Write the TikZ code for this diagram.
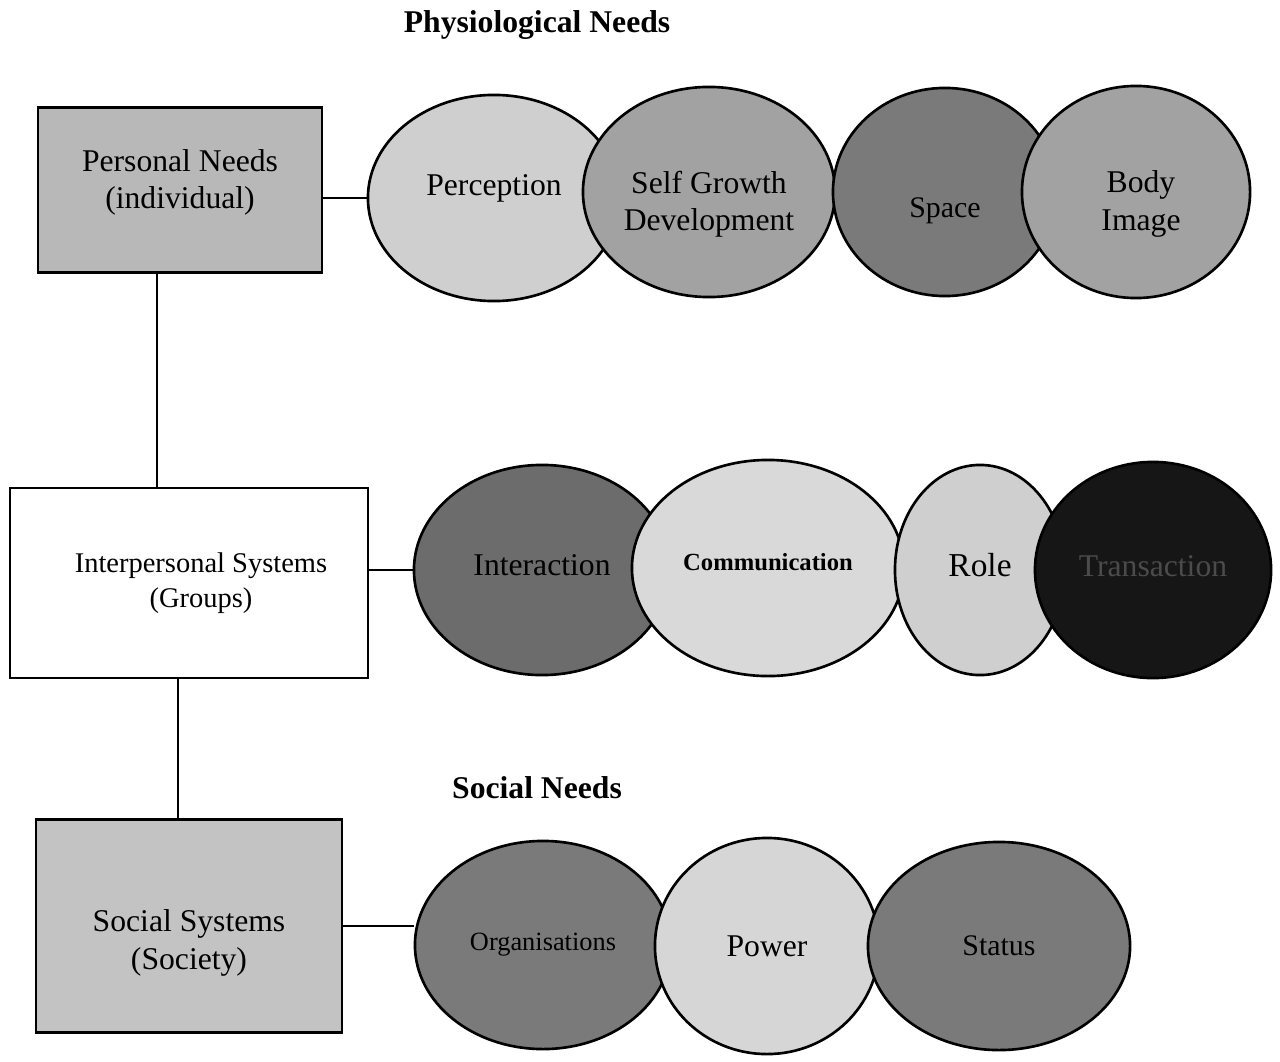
\documentclass[tikz,border=0pt]{standalone}
\usepackage{fontspec}
\setmainfont{Liberation Serif}
\usetikzlibrary{shapes.geometric}

% fill tones of the scanned picture
\definecolor{boxgray}{HTML}{B8B8B8}
\definecolor{lightgray}{HTML}{CFCFCF}
\definecolor{midgray}{HTML}{A2A2A2}
\definecolor{darkgray}{HTML}{7A7A7A}
\definecolor{deepgray}{HTML}{6C6C6C}
\definecolor{nearblack}{HTML}{161616}

\begin{document}
\begin{tikzpicture}[x=0.01cm, y=-0.01cm, line width=0.75pt,
    box/.style={draw, rectangle, inner sep=0pt},
    bubble/.style={draw, ellipse, inner sep=0pt},
    tag/.style={align=center, inner sep=0pt,
        font=\fontsize{9}{10.6}\selectfont},
    heading/.style={font=\bfseries\fontsize{9}{10.6}\selectfont}]

    \useasboundingbox (0,0) rectangle (1280,1061);

    % headings
    \node[heading] (physio) at (537,25) {Physiological Needs};
    \node[heading] (social) at (537,788) {Social Needs};

    % the three systems
    \node[box, fill=boxgray, minimum width=2.84cm, minimum height=1.65cm,
        label={[tag, yshift=0.075cm]center:Personal Needs\\(individual)}]
        (personal) at (180,190) {};
    \node[box, fill=white, minimum width=3.58cm, minimum height=1.90cm,
        label={[tag, xshift=0.12cm, font=\fontsize{8.1}{10}\selectfont]
            center:Interpersonal Systems\\(Groups)}]
        (interpersonal) at (189,583) {};
    \node[box, fill=boxgray!85, minimum width=3.06cm, minimum height=2.13cm,
        label={[tag, yshift=-0.17cm]center:Social Systems\\(Society)}]
        (societal) at (189,926) {};

    % physiological needs
    \node[bubble, fill=lightgray, minimum width=2.52cm, minimum height=2.06cm,
        label={[tag, yshift=0.10cm]center:Perception}]
        (perception) at (494,198) {};
    \node[bubble, fill=midgray, minimum width=2.52cm, minimum height=2.10cm,
        label={[tag, yshift=-0.12cm]center:Self Growth\\Development}]
        (growth) at (709,192) {};
    \node[bubble, fill=darkgray, minimum width=2.24cm, minimum height=2.08cm,
        label={[tag, yshift=-0.19cm, font=\fontsize{8.5}{10}\selectfont]
            center:Space}]
        (space) at (945,192) {};
    \node[bubble, fill=midgray, minimum width=2.28cm, minimum height=2.12cm,
        label={[tag, xshift=0.05cm, yshift=-0.12cm]center:Body\\Image}]
        (body) at (1136,192) {};

    % interpersonal needs
    \node[bubble, fill=deepgray, minimum width=2.56cm, minimum height=2.10cm,
        label={[tag, yshift=0.05cm]center:Interaction}]
        (interaction) at (542,570) {};
    \node[bubble, fill=lightgray!80, minimum width=2.72cm, minimum height=2.16cm,
        label={[tag, yshift=0.06cm, font=\bfseries\fontsize{7}{8.5}\selectfont]
            center:Communication}]
        (communication) at (768,568) {};
    \node[bubble, fill=lightgray, minimum width=1.70cm, minimum height=2.10cm,
        label={[tag, yshift=0.05cm, font=\fontsize{9.5}{11}\selectfont]
            center:Role}]
        (role) at (980,570) {};
    \node[bubble, fill=nearblack, minimum width=2.36cm, minimum height=2.16cm,
        label={[tag, yshift=0.04cm, text=deepgray!70!black]center:Transaction}]
        (transaction) at (1153,570) {};

    % social needs
    \node[bubble, fill=darkgray, minimum width=2.56cm, minimum height=2.08cm,
        label={[tag, font=\fontsize{7.5}{9}\selectfont]center:Organisations}]
        (organisations) at (543,945) {};
    \node[bubble, fill=lightgray!85, minimum width=2.24cm, minimum height=2.16cm,
        label={[tag]center:Power}]
        (power) at (767,946) {};
    \node[bubble, fill=darkgray, minimum width=2.62cm, minimum height=2.08cm,
        label={[tag, font=\fontsize{8.5}{10}\selectfont]center:Status}]
        (status) at (999,946) {};

    % links between the systems
    \draw ([xshift=-0.23cm]personal.south)
        -- ([xshift=-0.23cm]personal.south |- interpersonal.north);
    \draw ([xshift=-0.11cm]interpersonal.south)
        -- ([xshift=-0.11cm]interpersonal.south |- societal.north);

    % links to the needs
    \draw (personal.east |- perception.west) -- (perception.west);
    \draw (interpersonal.east |- interaction.west) -- (interaction.west);
    \draw (societal.east) -- (societal.east -| organisations.west);

\end{tikzpicture}
\end{document}
